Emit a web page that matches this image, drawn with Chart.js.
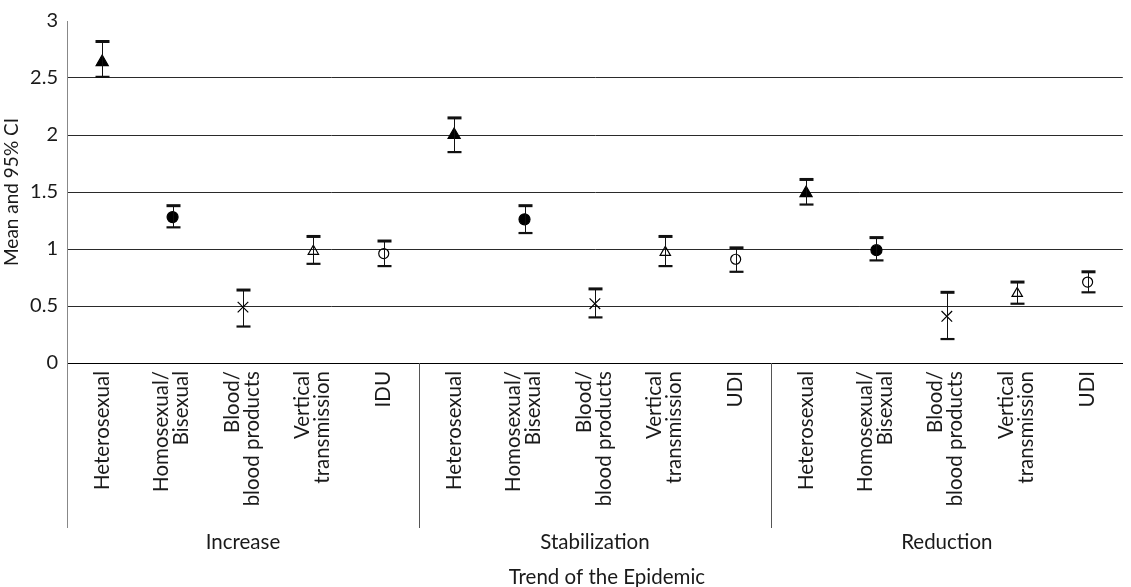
<!DOCTYPE html>
<html>
<head>
<meta charset="utf-8">
<script src="https://cdn.jsdelivr.net/npm/chart.js@4.4.1/dist/chart.umd.min.js"></script>
<style>
  html, body { margin: 0; padding: 0; background: #fff; }
  #wrap { width: 1131px; height: 587px; position: relative; }
</style>
</head>
<body>
<div id="wrap"><canvas id="ciChart"></canvas></div>
<script>
// transmission routes inside each trend group
const categories = [
  'Heterosexual', ['Homosexual/', 'Bisexual'], ['Blood/', 'blood products'], ['Vertical', 'transmission'], 'IDU',
  'Heterosexual', ['Homosexual/', 'Bisexual'], ['Blood/', 'blood products'], ['Vertical', 'transmission'], 'UDI',
  'Heterosexual', ['Homosexual/', 'Bisexual'], ['Blood/', 'blood products'], ['Vertical', 'transmission'], 'UDI'
];
const groups = ['Increase', 'Stabilization', 'Reduction'];
const means   = [2.64, 1.28, 0.49, 0.98, 0.96,  2.00, 1.26, 0.52, 0.97, 0.91,  1.49, 0.99, 0.41, 0.61, 0.71];
const lowerCI = [2.51, 1.19, 0.32, 0.87, 0.85,  1.85, 1.14, 0.40, 0.85, 0.80,  1.39, 0.90, 0.21, 0.52, 0.62];
const upperCI = [2.82, 1.38, 0.64, 1.11, 1.07,  2.15, 1.38, 0.65, 1.11, 1.01,  1.61, 1.10, 0.62, 0.71, 0.80];
const yTicks = [0, 0.5, 1, 1.5, 2, 2.5, 3];
const xTitle = 'Trend of the Epidemic';
const yTitle = 'Mean and 95% CI';

const FONT = 'Lato, "Open Sans", sans-serif';
const INK = '#1a1a1a';

// one marker per route: filled triangle, filled circle, x, open triangle, open circle
const markers = [
  { style: 'triangle', radius: 7, fill: '#000' },
  { style: 'circle', radius: 5.5, fill: '#000' },
  { style: 'crossRot', radius: 7.5, fill: 'rgba(0,0,0,0)' },
  { style: 'triangle', radius: 6, fill: 'rgba(0,0,0,0)' },
  { style: 'circle', radius: 5, fill: 'rgba(0,0,0,0)' }
];
const perPoint = key => means.map((_, i) => markers[i % markers.length][key]);

const AXIS_BOTTOM = 528;   // where the label area ends

const errorBars = {
  id: 'errorBars',
  afterDatasetsDraw(chart) {
    const { ctx, scales: { x, y } } = chart;
    ctx.save();
    ctx.strokeStyle = '#111';
    means.forEach((m, i) => {
      const px = Math.round(x.getPixelForValue(i)) + 0.5;
      const top = y.getPixelForValue(upperCI[i]);
      const bot = y.getPixelForValue(lowerCI[i]);
      ctx.lineWidth = 1;
      ctx.beginPath();
      ctx.moveTo(px, top);
      ctx.lineTo(px, bot);
      ctx.stroke();
      ctx.lineWidth = 3;
      ctx.beginPath();
      ctx.moveTo(px - 7, top);
      ctx.lineTo(px + 7, top);
      ctx.stroke();
      ctx.lineWidth = 2.2;
      ctx.beginPath();
      ctx.moveTo(px - 7, bot);
      ctx.lineTo(px + 7, bot);
      ctx.stroke();
    });
    ctx.restore();
  }
};

// centre multi-line rotated labels on their tick (chart.js puts line 1 on the tick)
const centerLabels = {
  id: 'centerLabels',
  beforeDraw(chart) {
    const x = chart.scales.x;
    const items = x.getLabelItems(chart.chartArea);
    items.forEach(item => {
      const n = Array.isArray(item.label) ? item.label.length : 1;
      if (n > 1 && !item._centred) {
        item.options.translation[0] -= (n - 1) * item.font.lineHeight / 2 + 1;
        item._centred = true;
      }
    });
  }
};

const groupAxis = {
  id: 'groupAxis',
  afterDraw(chart) {
    const { ctx, chartArea, scales: { x } } = chart;
    const per = categories.length / groups.length;
    const edges = [chartArea.left];
    for (let g = 1; g < groups.length; g++) {
      edges.push((x.getPixelForValue(g * per - 1) + x.getPixelForValue(g * per)) / 2);
    }
    edges.push(chartArea.right);

    ctx.save();
    ctx.lineWidth = 1;
    edges.slice(0, -1).forEach((ex, k) => {
      ctx.strokeStyle = k === 0 ? '#888' : '#555';
      ctx.beginPath();
      ctx.moveTo(Math.round(ex) + 0.5, chartArea.bottom);
      ctx.lineTo(Math.round(ex) + 0.5, AXIS_BOTTOM);
      ctx.stroke();
    });

    ctx.fillStyle = INK;
    ctx.font = '20.5px ' + FONT;
    ctx.textAlign = 'center';
    ctx.textBaseline = 'middle';
    groups.forEach((g, k) => {
      ctx.fillText(g, (edges[k] + edges[k + 1]) / 2, 542);
    });
    ctx.fillText(xTitle, (chartArea.left + chartArea.right) / 2 + 12, 577);
    ctx.restore();
  }
};

new Chart(document.getElementById('ciChart'), {
  type: 'line',
  data: {
    labels: categories,
    datasets: [{
      label: yTitle,
      data: means,
      showLine: false,
      pointStyle: perPoint('style'),
      pointRadius: perPoint('radius'),
      pointHoverRadius: perPoint('radius'),
      pointBackgroundColor: perPoint('fill'),
      pointBorderColor: '#000',
      pointBorderWidth: 1.2
    }]
  },
  options: {
    responsive: true,
    maintainAspectRatio: false,
    animation: false,
    layout: { padding: { top: 9, right: 0, bottom: 587 - AXIS_BOTTOM, left: 0 } },
    plugins: { legend: { display: false }, tooltip: { enabled: false } },
    scales: {
      x: {
        offset: true,
        grid: { display: false },
        border: { display: true, color: '#000' },
        ticks: {
          autoSkip: false, minRotation: 90, maxRotation: 90,
          padding: 0, color: INK, font: { family: FONT, size: 20.5, lineHeight: '20px' }
        },
        afterFit: s => { s.height = 165; }
      },
      y: {
        min: 0, max: 3,
        afterBuildTicks: s => { s.ticks = yTicks.map(v => ({ value: v })); },
        grid: {
          drawTicks: false,
          color: c => (c.tick && c.tick.value === 3) ? 'rgba(0,0,0,0)' : '#2a2a2a'
        },
        border: { display: true, color: '#888' },
        ticks: { padding: 9, color: INK, font: { family: FONT, size: 20 }, callback: v => String(v) },
        title: { display: true, text: yTitle, color: INK, font: { family: FONT, size: 19 }, padding: { top: 0, bottom: 0 } },
        afterFit: s => { s.width = 67; }
      }
    }
  },
  plugins: [errorBars, centerLabels, groupAxis]
});
</script>
</body>
</html>
